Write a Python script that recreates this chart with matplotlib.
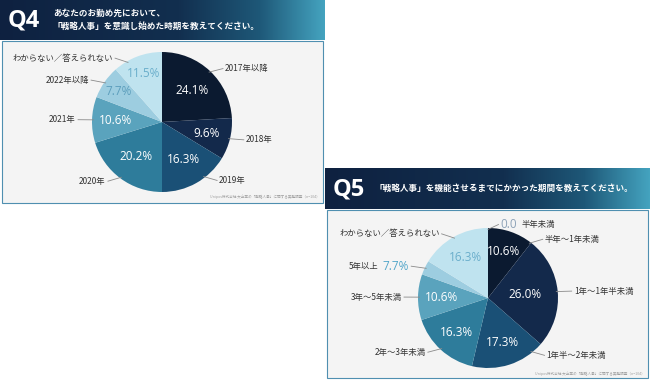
import numpy as np
import matplotlib
matplotlib.use('Agg')
import matplotlib.pyplot as plt
from matplotlib.colors import LinearSegmentedColormap
from matplotlib.patches import Rectangle

plt.rcParams['font.family'] = ['Noto Sans CJK JP', 'DejaVu Sans']

# Q4 data
q4_labels = ['2017年以降', '2018年', '2019年', '2020年', '2021年', '2022年以降', 'わからない／答えられない']
q4_values = [24.1, 9.6, 16.3, 20.2, 10.6, 7.7, 11.5]
q4_pct = ['24.1%', '9.6%', '16.3%', '20.2%', '10.6%', '7.7%', '11.5%']

# Q5 data (wedge sizes, printed labels kept as shown)
q5_labels = ['半年未満', '半年〜1年未満', '1年〜1年半未満', '1年半〜2年未満', '2年〜3年未満',
             '3年〜5年未満', '5年以上', 'わからない／答えられない']
q5_values = [0.0, 10.6, 26.0, 17.3, 16.3, 10.6, 3.3, 16.3]
q5_pct = ['0.0', '10.6%', '26.0%', '17.3%', '16.3%', '10.6%', '7.7%', '16.3%']

q4_title = ['あなたのお勤め先において、', '「戦略人事」を意識し始めた時期を教えてください。']
q5_title = ['「戦略人事」を機能させるまでにかかった期間を教えてください。']
source = 'Unipos株式会社 大企業の「戦略人事」に関する実態調査（n=104）'

# styling
q4_colors = ['#0b1a30', '#13294b', '#1a5076', '#2e7c9b', '#5aa3bd', '#9dcde0', '#bfe3ef']
q5_colors = ['#0b1a30', '#0b1a30', '#13294b', '#1a5076', '#2e7c9b', '#5aa3bd', '#9dcde0', '#bfe3ef']
q4_pct_colors = ['white'] * 5 + ['#5c9ebc', '#6aaecb']
q5_pct_colors = ['#8ea3b8'] + ['white'] * 5 + ['#52a6c9', '#6aaecb']
q4_pct_r = [0.62, 0.65, 0.62, 0.62, 0.67, 0.76, 0.74]
q5_pct_r = [0, 0.7, 0.53, 0.66, 0.66, 0.67, 0, 0.67]
q4_nudge = {2: 8, 6: 9}
q5_nudge = {1: -18, 3: 21}
num_font = ['Open Sans', 'DejaVu Sans']

W, H = 650, 380
fig = plt.figure(figsize=(6.5, 3.8), dpi=100)
fig.patch.set_facecolor('white')
bg = fig.add_axes([0, 0, 1, 1])
bg.axis('off')

hdr_cmap = LinearSegmentedColormap.from_list(
    'hdr', [(0, '#0e2140'), (0.55, '#122f4f'), (0.8, '#1e5878'), (1, '#44a3bf')])
grad = np.linspace(0, 1, 256).reshape(1, -1)


def card(x0, y0, x1, y_hdr, y1, qtext, title, title_x, src_y):
    bg.imshow(grad, extent=(x0, x1, y_hdr, y0), aspect='auto', cmap=hdr_cmap, zorder=1)
    bg.add_patch(Rectangle((x0 + 2, y_hdr + 1), x1 - x0 - 4, y1 - y_hdr - 1,
                           facecolor='#f4f4f4', edgecolor='#4f8fb0', lw=0.8, zorder=2))
    bg.text(x0 + 8, (y0 + y_hdr) / 2 + 1, qtext, color='white', fontsize=17,
            fontweight='bold', family=num_font, va='center', zorder=3)
    n = len(title)
    for i, line in enumerate(title):
        yy = (y0 + y_hdr) / 2 + (i - (n - 1) / 2) * 12.5
        bg.text(x0 + title_x, yy, line, color='white', fontsize=6.2, fontweight='bold',
                va='center', zorder=3)
    bg.text(x1 - 5, src_y, source, color='#a0a0a0', fontsize=2.6, ha='right',
            va='center', zorder=3)


card(0, 0, 325, 40, 203, 'Q4', q4_title, 53, 197)
card(325, 168, 650, 209, 378, 'Q5', q5_title, 50, 374)
bg.set_xlim(0, W)
bg.set_ylim(H, 0)


def draw_pie(cx, cy, r, values, labels, pcts, colors, pct_colors, pct_r, nudge):
    ax = fig.add_axes([(cx - r) / W, (H - cy - r) / H, 2 * r / W, 2 * r / H])
    ax.pie(values, colors=colors, startangle=90, counterclock=False,
           wedgeprops=dict(linewidth=0))
    ax.set_xlim(-1, 1)
    ax.set_ylim(-1, 1)
    ax.axis('off')
    frac = np.array(values) / np.sum(values)
    start = 90 - 360 * np.concatenate([[0], np.cumsum(frac)[:-1]])
    mid = start - 180 * frac
    off = 10.5 / r
    for i, lab in enumerate(labels):
        a = np.deg2rad(mid[i] + nudge.get(i, 0))
        right = np.cos(a) > -1e-9
        sgn = 1 if right else -1
        x1, y1 = 0.98 * np.cos(a), 0.98 * np.sin(a)
        x2, y2 = 1.05 * np.cos(a) + sgn * off, 1.05 * np.sin(a)
        ax.plot([x1, x2], [y1, y2], color='#8a8a8a', lw=0.6, clip_on=False)
        tx = x2 + sgn * 0.03
        if frac[i] < 0.05:
            t = ax.text(tx, y2, pcts[i], color=pct_colors[i], fontsize=8.5,
                        family=num_font, fontweight=500,
                        ha='left' if right else 'right', va='center')
            ax.annotate(lab, xy=(1, 0.5) if right else (0, 0.5), xycoords=t,
                        xytext=(3 * sgn, 0), textcoords='offset points',
                        ha='left' if right else 'right', va='center',
                        fontsize=6, color='#333333')
        else:
            ax.text(tx, y2, lab, fontsize=6, color='#333333',
                    ha='left' if right else 'right', va='center')
            am = np.deg2rad(mid[i])
            ax.text(pct_r[i] * np.cos(am), pct_r[i] * np.sin(am), pcts[i],
                    color=pct_colors[i], fontsize=8.5, ha='center', va='center',
                    family=num_font, fontweight=500)
    return ax


draw_pie(162, 122, 70, q4_values, q4_labels, q4_pct, q4_colors, q4_pct_colors,
         q4_pct_r, q4_nudge)
draw_pie(488, 298, 70, q5_values, q5_labels, q5_pct, q5_colors, q5_pct_colors,
         q5_pct_r, q5_nudge)

fig.savefig('out.png', dpi=100, facecolor='white')
